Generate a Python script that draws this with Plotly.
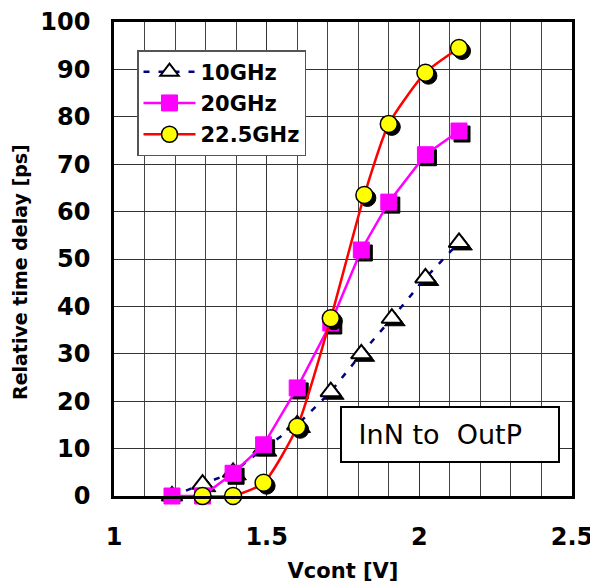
import numpy as np
import plotly.graph_objects as go

# ---- data ----
x_10 = [1.19, 1.29, 1.39, 1.49, 1.60, 1.71, 1.81, 1.91, 2.02, 2.13]
y_10 = [0, 2.5, 5, 10, 15, 22, 30, 37.5, 46, 53.5]

x_20 = [1.19, 1.29, 1.39, 1.49, 1.60, 1.71, 1.81, 1.90, 2.02, 2.13]
y_20 = [0, 0, 4.8, 10.8, 22.8, 36.5, 51.9, 62, 72, 77]

x_225 = [1.29, 1.39, 1.49, 1.60, 1.71, 1.82, 1.90, 2.02, 2.13]
y_225 = [0, 0, 2.8, 14.6, 37.5, 63.5, 78.5, 89.3, 94.5]

names = ["10GHz", "20GHz", "22.5GHz"]
x_ticks = [1, 1.5, 2, 2.5]
y_ticks = list(range(0, 101, 10))

# ---- figure ----
W, H = 598, 585
OFF = 8  # page body margin
# target plot area on screen: x 114..572, y 22..496
ML, MT = 114 - OFF, 22 - OFF
MR, MB = W - (572 - OFF), H - (496 - OFF)
PW, PH = W - ML - MR, H - MT - MB
X0, X1, Y0, Y1 = 1.0, 2.5, 0.0, 100.0
px_x = (X1 - X0) / PW
px_y = (Y1 - Y0) / PH
SH = 3  # shadow offset in px

def paper_x(sx):
    return (sx - OFF - ML) / PW

def paper_y(sy):
    return (PH + MT - (sy - OFF)) / PH

FONT = "DejaVu Sans"

fig = go.Figure()

def shadow(x, y, symbol, size):
    fig.add_trace(go.Scatter(
        x=np.array(x) + SH * px_x, y=np.array(y) - SH * px_y,
        mode="markers", showlegend=False, hoverinfo="skip", cliponaxis=False,
        marker=dict(symbol=symbol, size=size, color="black",
                    line=dict(color="black", width=1))))

# 10 GHz
shadow(x_10, y_10, "triangle-up", 18)
fig.add_trace(go.Scatter(
    x=x_10, y=y_10, name=names[0], mode="lines+markers", legendgroup="a",
    cliponaxis=False,
    line=dict(color="#000080", width=2.5, dash="6px,9px"),
    marker=dict(symbol="triangle-up", size=18, color="white",
                line=dict(color="black", width=2))))

# 20 GHz
shadow(x_20, y_20, "square", 16)
fig.add_trace(go.Scatter(
    x=x_20, y=y_20, name=names[1], mode="lines+markers", legendgroup="b",
    cliponaxis=False,
    line=dict(color="#FF00FF", width=2.5),
    marker=dict(symbol="square", size=16, color="#FF00FF",
                line=dict(color="#FF00FF", width=1))))

# 22.5 GHz
shadow(x_225, y_225, "circle", 17)
fig.add_trace(go.Scatter(
    x=x_225, y=y_225, name=names[2], mode="lines+markers", legendgroup="c",
    cliponaxis=False,
    line=dict(color="#FF0000", width=2.5, shape="spline", smoothing=0.6),
    marker=dict(symbol="circle", size=17, color="#FFFF00",
                line=dict(color="black", width=1.5))))

fig.update_layout(
    width=W, height=H,
    margin=dict(l=ML, r=MR, t=MT, b=MB, autoexpand=False),
    paper_bgcolor="white", plot_bgcolor="white",
    font=dict(family=FONT, color="black"),
    showlegend=True,
    legend=dict(
        x=paper_x(137), y=paper_y(50),
        xanchor="left", yanchor="top",
        bgcolor="white", bordercolor="#555555", borderwidth=1.5,
        font=dict(family=FONT, size=21, color="black", weight="bold"),
        tracegroupgap=1, itemwidth=52,
    ),
    xaxis=dict(
        range=[X0, X1], tickvals=x_ticks, ticktext=[f"{v:g}" for v in x_ticks],
        showgrid=True, gridcolor="#333333", gridwidth=1,
        minor=dict(dtick=0.1, showgrid=True, gridcolor="#444444", gridwidth=1),
        showline=True, mirror=True, linecolor="black", linewidth=2.5,
        ticks="", ticklabelstandoff=17, zeroline=False,
        tickfont=dict(family=FONT, size=24, weight="bold"),
        title=dict(text="Vcont [V]", standoff=14,
                   font=dict(family=FONT, size=21, weight="bold")),
        automargin=False,
    ),
    yaxis=dict(
        range=[Y0, Y1], tickvals=y_ticks,
        showgrid=True, gridcolor="#333333", gridwidth=1,
        showline=True, mirror=True, linecolor="black", linewidth=2.5,
        ticks="", ticklabelstandoff=16, zeroline=False,
        tickfont=dict(family=FONT, size=24, weight="bold"),
        automargin=False,
    ),
    annotations=[
        dict(
            text="\u00a0InN to\u00a0 OutP", xref="paper", yref="paper",
            x=paper_x(450), y=paper_y(434.5),
            xanchor="center", yanchor="middle", showarrow=False,
            align="left", width=200, height=37, borderpad=8,
            bgcolor="white", bordercolor="black", borderwidth=2,
            font=dict(family=FONT, size=27, color="black"),
        ),
        dict(
            text="Relative time delay [ps]", xref="paper", yref="paper",
            x=paper_x(20), y=paper_y(272), textangle=-90,
            xanchor="center", yanchor="middle", showarrow=False,
            font=dict(family=FONT, size=19, color="black", weight="bold"),
        ),
    ],
)

fig.write_html("out.html")
